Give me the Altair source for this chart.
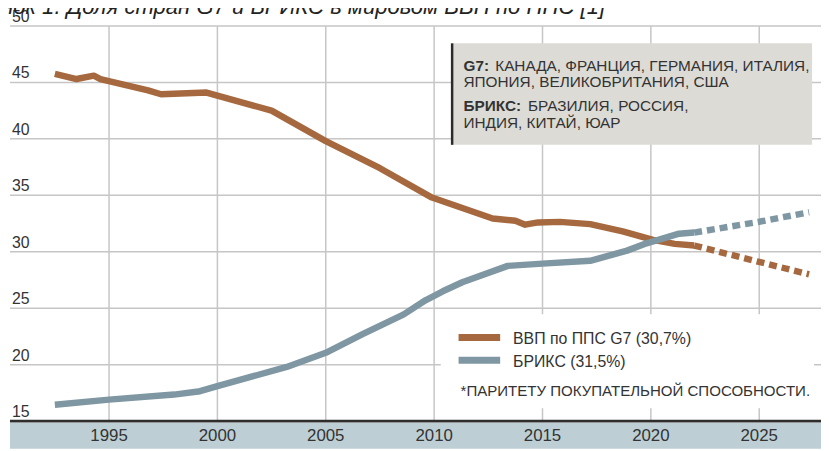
import altair as alt
import pandas as pd

# ---------------- data ----------------
g7_years = [1992.5, 1993.5, 1994.3, 1994.6, 1996.8, 1997.4, 1999.5, 2002.5, 2005.0, 2007.5,
            2009.9, 2012.7, 2013.75, 2014.2, 2014.8, 2015.8, 2017.2, 2018.7, 2020.1, 2021.1, 2022.0]
g7_values = [45.75, 45.3, 45.6, 45.3, 44.3, 43.95, 44.1, 42.5, 39.8, 37.4,
             34.8, 32.95, 32.75, 32.4, 32.6, 32.65, 32.45, 31.8, 31.05, 30.7, 30.55]
g7_proj_years = [2022.0, 2025.0, 2027.3]
g7_proj_values = [30.55, 29.1, 28.0]

brics_years = [1992.5, 1995.0, 1998.0, 1999.2, 2000.0, 2003.2, 2005.0, 2006.7, 2008.6, 2009.6, 2010.4,
               2011.3, 2013.4, 2015.0, 2017.2, 2018.9, 2019.8, 2021.3, 2022.0]
brics_values = [16.45, 16.9, 17.35, 17.65, 18.1, 19.8, 21.05, 22.7, 24.45, 25.7, 26.5,
                27.3, 28.75, 28.95, 29.2, 30.1, 30.75, 31.6, 31.7]
brics_proj_years = [2022.0, 2025.0, 2027.3]
brics_proj_values = [31.7, 32.66, 33.5]

x_ticks = [1995, 2000, 2005, 2010, 2015, 2020, 2025]
y_ticks = [15, 20, 25, 30, 35, 40, 45, 50]

series_names = ["ВВП по ППС G7 (30,7%)", "БРИКС (31,5%)"]
title_text = "Рисунок 1. Доля стран G7 и БРИКС в мировом ВВП по ППС [1]"
note_g7_label = "G7:"
note_g7_lines = ["КАНАДА, ФРАНЦИЯ, ГЕРМАНИЯ, ИТАЛИЯ,", "ЯПОНИЯ, ВЕЛИКОБРИТАНИЯ, США"]
note_brics_label = "БРИКС:"
note_brics_lines = ["БРАЗИЛИЯ, РОССИЯ,", "ИНДИЯ, КИТАЙ, ЮАР"]
footnote = "*ПАРИТЕТУ ПОКУПАТЕЛЬНОЙ СПОСОБНОСТИ."

# ---------------- styling ----------------
ORANGE = "#a6693f"
BLUE = "#7f97a2"
GRID = "#c6c6c6"
BAND = "#bdcfd4"
BOX = "#dddbd6"
TEXT = "#333333"
FONT = "Liberation Sans"

W, H = 819, 415
x_scale = alt.Scale(domain=[1990.43, 2027.85], nice=False, zero=False)
y_scale = alt.Scale(domain=[15, 51.4], nice=False, zero=False)


def line_df(years, values, name):
    return pd.DataFrame({"year": years, "value": values, "series": name})


def line_layer(df, color, dash=None):
    kw = dict(strokeWidth=6.5, strokeCap="butt", strokeJoin="round", color=color)
    if dash:
        kw["strokeDash"] = dash
    return alt.Chart(df).mark_line(**kw).encode(
        x=alt.X("year:Q", scale=x_scale, axis=None),
        y=alt.Y("value:Q", scale=y_scale, axis=None),
        detail="series:N",
    )


def text_layer(txt, x, y, size, bold=False, italic=False, align="left", color=TEXT):
    kw = dict(font=FONT, fontSize=size, align=align, baseline="alphabetic", color=color)
    if bold:
        kw["fontWeight"] = "bold"
    if italic:
        kw["fontStyle"] = "italic"
    return alt.Chart(pd.DataFrame({"t": [txt]})).mark_text(**kw).encode(
        x=alt.value(x), y=alt.value(y), text="t:N"
    )


def box_layer(x, x2, y, y2, fill):
    return alt.Chart(pd.DataFrame({"k": [0]})).mark_rect(color=fill).encode(
        x=alt.value(x), x2=alt.value(x2), y=alt.value(y), y2=alt.value(y2)
    )


ygrid_df = pd.DataFrame({"v": [t for t in y_ticks if t != 15]})
xgrid_df = pd.DataFrame({"v": x_ticks})
ylab_df = pd.DataFrame({"v": y_ticks, "t": [str(t) for t in y_ticks]})
xlab_df = pd.DataFrame({"v": x_ticks, "t": [str(t) for t in x_ticks]})

hgrid = alt.Chart(ygrid_df).mark_rule(color=GRID, strokeWidth=1.5).encode(
    y=alt.Y("v:Q", scale=y_scale, axis=None)
)
vgrid = alt.Chart(xgrid_df).mark_rule(color=GRID, strokeWidth=1.5).encode(
    x=alt.X("v:Q", scale=x_scale, axis=None), y=alt.value(16), y2=alt.value(H)
)
ylabels = alt.Chart(ylab_df).mark_text(
    font=FONT, fontSize=16, align="left", baseline="alphabetic", dy=-4, color=TEXT
).encode(x=alt.value(2), y=alt.Y("v:Q", scale=y_scale, axis=None), text="t:N")

band = box_layer(0, W, H + 2, H + 28, BAND)
axis_line = alt.Chart(pd.DataFrame({"v": [15]})).mark_rule(color="#2e2e2e", strokeWidth=3).encode(
    y=alt.Y("v:Q", scale=y_scale, axis=None)
)
xlabels = alt.Chart(xlab_df).mark_text(
    font=FONT, fontSize=17, align="center", baseline="alphabetic", color=TEXT
).encode(x=alt.X("v:Q", scale=x_scale, axis=None), y=alt.value(H + 20), text="t:N")

# note box (top right)
note_bg = box_layer(446, 810, 33.5, 136, BOX)
note_border = alt.Chart(pd.DataFrame({"k": [0]})).mark_rule(color="#2b2b2b", strokeWidth=2.5).encode(
    x=alt.value(446.5), y=alt.value(33.5), y2=alt.value(136)
)
NS = 15.5
notes = [
    text_layer(note_g7_label, 458, 61.5, NS, bold=True),
    text_layer(note_g7_lines[0], 490, 61.5, NS),
    text_layer(note_g7_lines[1], 458, 77.5, NS),
    text_layer(note_brics_label, 458, 102, NS, bold=True),
    text_layer(note_brics_lines[0], 523, 102, NS),
    text_layer(note_brics_lines[1], 458, 118.5, NS),
]

# legend (bottom right)
leg_bg = box_layer(435, 812, 307, 402, "white")
leg_items = [
    box_layer(453, 495, 327, 334, ORANGE),
    box_layer(453, 495, 350, 357, BLUE),
    text_layer(series_names[0], 508, 337, 16),
    text_layer(series_names[1], 508, 360, 16),
    text_layer(footnote, 455, 390, 15.2),
]

title = text_layer(title_text, 601, 3.5, 22.3, italic=True, align="right", color="#222222")

chart = alt.layer(
    hgrid,
    vgrid,
    note_bg,
    note_border,
    *notes,
    leg_bg,
    *leg_items,
    ylabels,
    line_layer(line_df(g7_years, g7_values, series_names[0]), ORANGE),
    line_layer(line_df(g7_proj_years, g7_proj_values, series_names[0]), ORANGE, dash=[8, 5]),
    line_layer(line_df(brics_years, brics_values, series_names[1]), BLUE),
    line_layer(line_df(brics_proj_years, brics_proj_values, series_names[1]), BLUE, dash=[8, 5]),
    band,
    axis_line,
    xlabels,
    title,
).properties(
    width=W,
    height=H,
    autosize=alt.AutoSizeParams(type="none"),
    padding={"left": 2, "top": 0, "right": 0, "bottom": 28},
).configure_view(stroke=None)

chart.save("out.html", embed_options={"renderer": "svg", "actions": False})
